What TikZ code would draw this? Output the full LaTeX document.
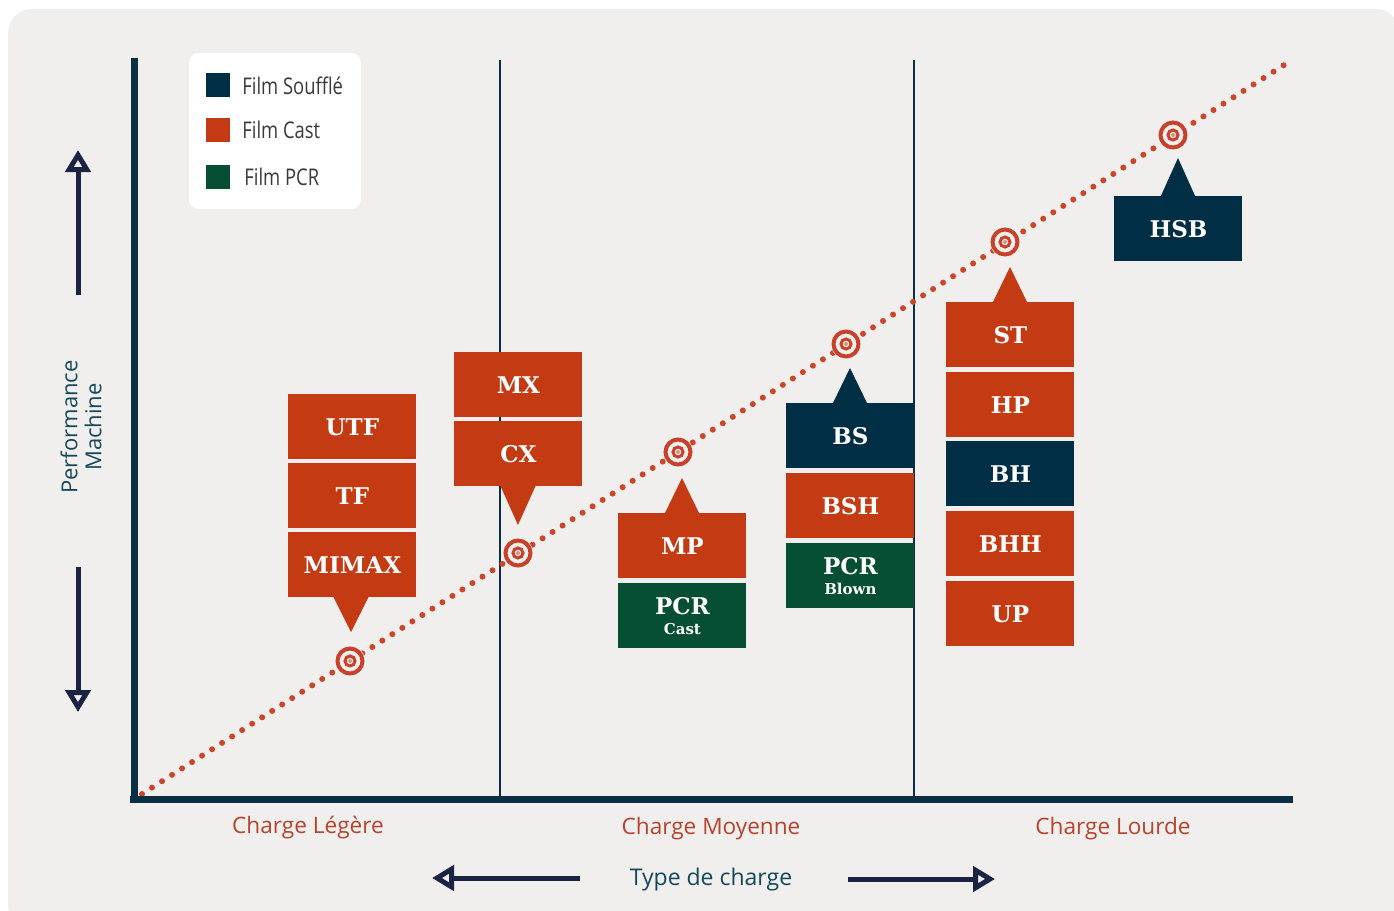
\documentclass[tikz,border=0pt]{standalone}
\usepackage{fontspec}
\setmainfont{Open Sans}
\newfontfamily\slab{DejaVu Serif}
\newfontfamily\legfont[FakeStretch=0.8]{Open Sans}
\usetikzlibrary{arrows.meta}
\definecolor{bgc}{HTML}{F1EFEE}
\definecolor{navy}{HTML}{002E44}
\definecolor{orng}{HTML}{C43A12}
\definecolor{grn}{HTML}{064F32}
\definecolor{axc}{HTML}{0A2E42}
\definecolor{dotc}{HTML}{CC4528}
\definecolor{tgc}{HTML}{C8412A}
\definecolor{tgl}{HTML}{E0907F}
\definecolor{lblred}{HTML}{B5432D}
\definecolor{teal}{HTML}{13495A}
\definecolor{arrc}{HTML}{1A2442}
\definecolor{legtxt}{HTML}{3A3A3A}
\tikzset{
  box/.style={minimum width=64pt, minimum height=32.5pt, inner sep=0pt, text=white,
    font=\slab\bfseries\fontsize{11.5}{12}\selectfont, anchor=north west, align=center},
  bigarrow/.style={arrc, line width=2.5pt, -{Triangle[open, length=11pt, width=12.5pt]}},
  leglbl/.style={anchor=west, inner sep=0pt, text=legtxt, font=\legfont\fontsize{11.5}{12}\selectfont},
  cat/.style={text=lblred, font=\fontsize{11.3}{12}\selectfont},
  target/.pic={
    \fill[bgc] (0,0) circle[radius=7.5pt];
    \draw[tgc, line width=2pt] (0,0) circle[radius=6.25pt];
    \draw[tgc, line width=1.5pt] (0,0) circle[radius=2.5pt];
    \fill[tgl] (0,0) circle[radius=1pt];
  }
}
\begin{document}
\begin{tikzpicture}[x=0.5pt, y=-0.5pt]
\useasboundingbox (0,0) rectangle (1394,911);
\fill[white] (0,0) rectangle (1394,911);
\fill[bgc, rounded corners=12pt] (8,9) rectangle (1400,930);

% legend
\fill[white, rounded corners=5pt] (189,53) rectangle (361,209);
\fill[navy] (206,73) rectangle (230,97);
\fill[orng] (206,118) rectangle (230,142);
\fill[grn] (206,165) rectangle (230,189);
\node[leglbl] (l1) at (242,86) {Film Soufflé};
\node[leglbl] (l2) at (242,130) {Film Cast};
\node[leglbl] (l3) at (244,177) {Film PCR};

% dividers
\draw[axc, line width=1pt] (500,60) -- (500,799);
\draw[axc, line width=1pt] (914,60) -- (914,799);

% dotted line
\coordinate (d0) at (142,794);
\coordinate (d1) at (1284,65);
\draw[dotc, line width=3pt, line cap=round, dash pattern=on 0pt off 5.94pt] (d0) -- (d1);

% axes
\coordinate (ytop) at (134,58);
\coordinate (orig) at (134,799);
\coordinate (xend) at (1293,799);
\draw[axc, line width=3.5pt] (ytop) -- (orig);
\draw[axc, line width=3.5pt] (130,799) -- (xend);

% targets
\foreach \p/\n in {(350,661)/t1,(518,553)/t2,(678,452)/t3,(846,344)/t4,(1005,242)/t5,(1173,135)/t6}
  \pic (\n) at \p {target};

% column 1
\node[box, fill=orng] (utf) at (288,394) {UTF};
\node[box, fill=orng] (tf) at (288,463) {TF};
\node[box, fill=orng] (mimax) at (288,532) {MIMAX};
\fill[orng] (333,596) -- (351,632) -- (369,596) -- cycle;

% column 2
\node[box, fill=orng] (mx) at (454,352) {MX};
\node[box, fill=orng] (cx) at (454,421) {CX};
\fill[orng] (500,485) -- (518,525) -- (536,485) -- cycle;

% column 3
\fill[orng] (664,515) -- (682,478) -- (700,515) -- cycle;
\node[box, fill=orng] (mp) at (618,513) {MP};
\node[box, fill=grn] (pcrc) at (618,583) {PCR\\[-2pt]{\slab\bfseries\fontsize{7.5}{8}\selectfont Cast}};

% column 4
\fill[navy] (832,405) -- (850,368) -- (868,405) -- cycle;
\node[box, fill=navy] (bs) at (786,403) {BS};
\node[box, fill=orng] (bsh) at (786,473) {BSH};
\node[box, fill=grn] (pcrb) at (786,543) {PCR\\[-2pt]{\slab\bfseries\fontsize{7.5}{8}\selectfont Blown}};

% column 5
\fill[orng] (992,304) -- (1010,267) -- (1028,304) -- cycle;
\node[box, fill=orng] (st) at (946,302) {ST};
\node[box, fill=orng] (hp) at (946,372) {HP};
\node[box, fill=navy] (bh) at (946,441) {BH};
\node[box, fill=orng] (bhh) at (946,511) {BHH};
\node[box, fill=orng] (up) at (946,581) {UP};

% column 6
\fill[navy] (1160,198) -- (1178,158) -- (1196,198) -- cycle;
\node[box, fill=navy] (hsb) at (1114,196) {HSB};

% category labels
\node[cat] (c1) at (308,828) {Charge Légère};
\node[cat] (c2) at (711,829) {Charge Moyenne};
\node[cat] (c3) at (1113,829) {Charge Lourde};

% x axis title and arrows
\node[text=teal, font=\fontsize{11.5}{12}\selectfont] (tdc) at (711,880) {Type de charge};
\coordinate (la0) at (580,878);
\coordinate (la1) at (432,878);
\coordinate (ra0) at (848,879);
\coordinate (ra1) at (995,879);
\draw[bigarrow] (la0) -- (la1);
\draw[bigarrow] (ra0) -- (ra1);

% y axis title and arrows
\node[rotate=90, align=center, text=teal, font=\fontsize{11}{12}\selectfont] (pm) at (81,427) {Performance\\Machine};
\coordinate (ua0) at (78,295);
\coordinate (ua1) at (78,150);
\coordinate (da0) at (78,567);
\coordinate (da1) at (78,712);
\draw[bigarrow] (ua0) -- (ua1);
\draw[bigarrow] (da0) -- (da1);
\end{tikzpicture}
\end{document}
